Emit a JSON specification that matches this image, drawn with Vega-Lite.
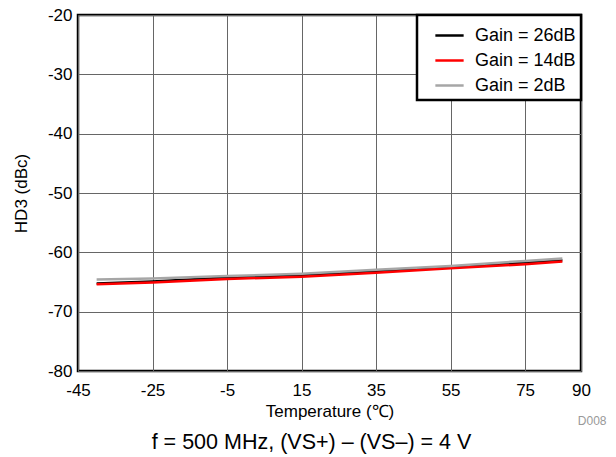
{
  "$schema": "https://vega.github.io/schema/vega-lite/v6.json",
  "width": 503,
  "height": 356,
  "autosize": "none",
  "padding": {"left": 78, "top": 15, "right": 35, "bottom": 86},
  "background": "white",
  "config": {
    "font": "Liberation Sans",
    "view": {"stroke": "#000000", "strokeWidth": 2.5},
    "axis": {"labelFont": "Liberation Sans", "titleFont": "Liberation Sans", "labelColor": "#000000", "titleColor": "#000000", "titleFontWeight": "normal", "gridColor": "#666666", "gridOpacity": 1, "gridWidth": 1}
  },
  "title": {"text": "f = 500 MHz, (VS+) – (VS–) = 4 V", "orient": "bottom", "anchor": "middle", "frame": "group", "dx": -18, "fontSize": 21.5, "fontWeight": "normal", "font": "Liberation Sans", "color": "#000000", "offset": 6},
  "data": {
    "values": [
      {"t": -40, "hd3": -65.25, "g": "Gain = 26dB"},
      {"t": -25, "hd3": -64.9, "g": "Gain = 26dB"},
      {"t": -5, "hd3": -64.25, "g": "Gain = 26dB"},
      {"t": 15, "hd3": -63.8, "g": "Gain = 26dB"},
      {"t": 35, "hd3": -63.2, "g": "Gain = 26dB"},
      {"t": 55, "hd3": -62.5, "g": "Gain = 26dB"},
      {"t": 75, "hd3": -61.7, "g": "Gain = 26dB"},
      {"t": 85, "hd3": -61.35, "g": "Gain = 26dB"},
      {"t": -40, "hd3": -65.4, "g": "Gain = 14dB"},
      {"t": -25, "hd3": -65.1, "g": "Gain = 14dB"},
      {"t": -5, "hd3": -64.5, "g": "Gain = 14dB"},
      {"t": 15, "hd3": -64.1, "g": "Gain = 14dB"},
      {"t": 35, "hd3": -63.45, "g": "Gain = 14dB"},
      {"t": 55, "hd3": -62.7, "g": "Gain = 14dB"},
      {"t": 75, "hd3": -62.0, "g": "Gain = 14dB"},
      {"t": 85, "hd3": -61.55, "g": "Gain = 14dB"},
      {"t": -40, "hd3": -64.57, "g": "Gain = 2dB"},
      {"t": -25, "hd3": -64.4, "g": "Gain = 2dB"},
      {"t": -5, "hd3": -64.0, "g": "Gain = 2dB"},
      {"t": 15, "hd3": -63.6, "g": "Gain = 2dB"},
      {"t": 35, "hd3": -62.95, "g": "Gain = 2dB"},
      {"t": 55, "hd3": -62.3, "g": "Gain = 2dB"},
      {"t": 75, "hd3": -61.45, "g": "Gain = 2dB"},
      {"t": 85, "hd3": -61.05, "g": "Gain = 2dB"}
    ]
  },
  "layer": [
    {
      "mark": {"type": "line", "strokeWidth": 2.5},
      "encoding": {
        "x": {"field": "t", "type": "quantitative", "scale": {"domain": [-45, 90], "nice": false, "zero": false},
          "axis": {"values": [-45, -25, -5, 15, 35, 55, 75, 90], "labelExpr": "'' + datum.value", "title": "Temperature (℃)", "titleFontSize": 17, "labelFontSize": 17, "domain": false, "ticks": false, "labelPadding": 11, "titlePadding": 5, "labelFlush": false}},
        "y": {"field": "hd3", "type": "quantitative", "scale": {"domain": [-80, -20], "nice": false, "zero": false},
          "axis": {"values": [-80, -70, -60, -50, -40, -30, -20], "labelExpr": "'' + datum.value", "title": "HD3 (dBc)", "titleFontSize": 17, "labelFontSize": 17, "domain": false, "ticks": false, "labelPadding": 6, "titlePadding": 17, "labelFlush": false}},
        "color": {"field": "g", "type": "nominal", "sort": ["Gain = 26dB", "Gain = 14dB", "Gain = 2dB"],
          "scale": {"domain": ["Gain = 26dB", "Gain = 14dB", "Gain = 2dB"], "range": ["#000000", "#ff0000", "#a6a6a6"]},
          "legend": {"title": null, "orient": "top-right", "offset": 0, "symbolType": "stroke", "symbolSize": 800, "symbolStrokeWidth": 2.5, "symbolOffset": 12, "labelFontSize": 18, "labelFont": "Liberation Sans", "labelColor": "#000000", "strokeColor": "#000000", "fillColor": "#ffffff", "padding": 5, "rowPadding": -3, "labelOffset": 10,
            "encode": {"legend": {"update": {"strokeWidth": {"value": 2.5}}}}}}
      }
    },
    {
      "mark": {"type": "point", "opacity": 0},
      "encoding": {
        "x": {"field": "t", "type": "quantitative", "scale": {"domain": [-45, 90], "nice": false, "zero": false},
          "axis": {"orient": "bottom", "title": "D008", "titleFontSize": 12, "titleColor": "#999999", "titleFontWeight": "normal", "labels": false, "ticks": false, "domain": false, "grid": false, "titleAnchor": "end", "offset": 40, "titleAlign": "right", "titleX": 528}}
      }
    }
  ],
  "resolve": {"axis": {"x": "independent"}}
}
